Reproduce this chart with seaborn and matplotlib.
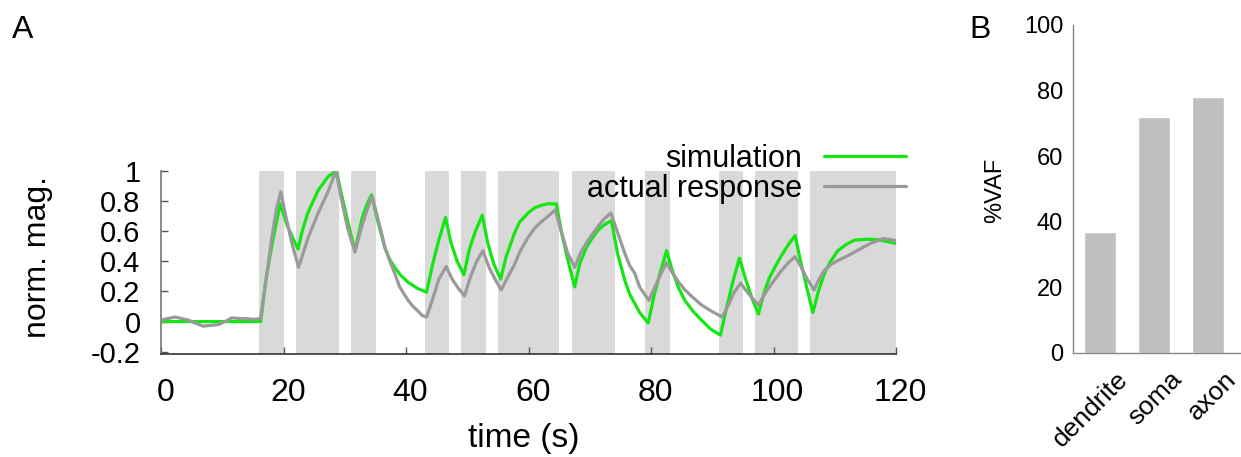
import matplotlib
matplotlib.use("Agg")
import matplotlib.pyplot as plt
import matplotlib.transforms as mtransforms
import seaborn as sns
import pandas as pd

# ---------------- data ----------------
stim_on = [16, 22, 31, 43, 49, 55, 67, 79, 91, 97, 106]
stim_off = [20, 29, 35, 47, 53, 65, 74, 83, 95, 104, 120]

sim_t = [0, 16.2, 17.0, 18.0, 19.4, 20.5, 21.5, 22.3, 23.0, 23.9, 25.6, 27.2, 28.6,
         29.3, 30.0, 30.8, 31.6, 32.2, 32.8, 33.5, 34.3, 35.3, 36.5, 37.3, 38.1, 39.0,
         40.3, 41.8, 43.3, 44.3, 45.3, 46.4, 47.3, 48.3, 49.4, 50.3, 51.3, 52.4, 53.3,
         54.3, 55.4, 56.3, 57.7, 58.5, 59.9, 61.0, 62.0, 63.0, 64.5, 65.3, 66.3, 67.5,
         68.3, 69.4, 70.3, 71.3, 72.3, 73.5, 74.5, 75.7, 76.5, 77.3, 78.1, 79.5, 80.5,
         81.5, 82.5, 83.5, 84.5, 85.5, 86.8, 88.2, 89.7, 91.3, 92.3, 93.3, 94.4, 95.5,
         96.5, 97.5, 98.5, 99.3, 100.2, 101.3, 102.4, 103.5, 104.5, 105.5, 106.4, 107.3,
         108.3, 109.3, 110.5, 111.8, 113.2, 115.0, 116.5, 118.0, 119.7, 120]
sim_y = [0.0, 0.0, 0.26, 0.50, 0.78, 0.64, 0.55, 0.48, 0.60, 0.72, 0.87, 0.96, 1.0,
         0.86, 0.74, 0.60, 0.47, 0.58, 0.69, 0.77, 0.84, 0.67, 0.49, 0.41, 0.36, 0.31,
         0.26, 0.22, 0.195, 0.38, 0.54, 0.69, 0.52, 0.40, 0.31, 0.48, 0.60, 0.705, 0.52,
         0.38, 0.28, 0.43, 0.59, 0.66, 0.72, 0.755, 0.77, 0.78, 0.78, 0.60, 0.42, 0.23,
         0.38, 0.49, 0.55, 0.605, 0.64, 0.67, 0.45, 0.27, 0.18, 0.12, 0.06, -0.01, 0.18,
         0.33, 0.47, 0.33, 0.22, 0.14, 0.07, 0.01, -0.05, -0.09, 0.09, 0.26, 0.42, 0.27,
         0.15, 0.05, 0.20, 0.29, 0.36, 0.44, 0.51, 0.57, 0.38, 0.21, 0.06, 0.20,
         0.32, 0.40, 0.47, 0.51, 0.54, 0.545, 0.545, 0.535, 0.52, 0.52]

act_t = [0, 1.0, 2.2, 3.3, 4.4, 5.5, 6.8, 8.0, 9.3, 10.4, 11.5, 12.6, 13.7, 15.0, 16.2,
         17.0, 18.0, 18.8, 19.5, 20.3, 21.3, 22.4, 23.2, 24.0, 25.6, 27.2, 28.5, 29.3,
         30.4, 31.6, 32.5, 33.5, 34.4, 35.5, 36.5, 37.3, 38.1, 38.9, 40.3, 41.1, 41.9,
         42.6, 43.3, 44.3, 45.3, 46.5, 47.5, 48.5, 49.5, 50.5, 51.5, 52.5, 53.5, 54.5,
         55.5, 56.5, 57.7, 58.5, 59.9, 61.0, 62.0, 63.2, 64.3, 65.3, 66.3, 67.5, 68.5,
         69.7, 71.3, 72.3, 73.4, 74.5, 75.7, 76.5, 77.3, 78.1, 79.6, 80.5, 81.5, 82.5,
         83.5, 84.5, 85.5, 86.8, 88.2, 89.8, 91.6, 92.5, 93.5, 94.6, 95.6, 96.6, 97.5,
         98.5, 99.3, 100.2, 101.3, 102.4, 103.5, 104.5, 105.5, 106.6, 107.4, 108.3,
         109.4, 110.5, 111.8, 113.2, 114.5, 115.9, 117.0, 117.8, 118.8, 119.7, 120]
act_y = [0.01, 0.02, 0.03, 0.02, 0.01, -0.01, -0.03, -0.025, -0.02, 0.0, 0.025, 0.02,
         0.02, 0.015, 0.02, 0.25, 0.55, 0.75, 0.86, 0.70, 0.52, 0.36, 0.46, 0.56, 0.72,
         0.86, 1.0, 0.83, 0.62, 0.46, 0.60, 0.73, 0.83, 0.66, 0.49, 0.40, 0.32, 0.23,
         0.14, 0.10, 0.07, 0.04, 0.03, 0.15, 0.28, 0.365, 0.28, 0.22, 0.17, 0.30, 0.40,
         0.47, 0.36, 0.28, 0.21, 0.29, 0.38, 0.46, 0.56, 0.62, 0.66, 0.70, 0.74, 0.60,
         0.46, 0.36, 0.46, 0.54, 0.63, 0.68, 0.72, 0.59, 0.45, 0.37, 0.32, 0.23, 0.14,
         0.22, 0.31, 0.39, 0.32, 0.26, 0.21, 0.16, 0.11, 0.07, 0.03, 0.10, 0.19, 0.255,
         0.20, 0.15, 0.11, 0.18, 0.23, 0.28, 0.34, 0.39, 0.43, 0.36, 0.28, 0.21, 0.28,
         0.34, 0.38, 0.405, 0.43, 0.46, 0.49, 0.52, 0.535, 0.55, 0.545, 0.54, 0.53]

regions = ["dendrite", "soma", "axon"]
vaf = [37, 72, 78]

x_ticks = [0, 20, 40, 60, 80, 100, 120]
y_ticks = [-0.2, 0, 0.2, 0.4, 0.6, 0.8, 1]
y_tick_labels = ["-0.2", "0", "0.2", "0.4", "0.6", "0.8", "1"]
vaf_ticks = [0, 20, 40, 60, 80, 100]

# ---------------- style ----------------
sns.set_theme(style="white")
plt.rcParams["font.family"] = ["Liberation Sans", "DejaVu Sans"]
plt.rcParams["text.color"] = "black"
plt.rcParams["axes.labelcolor"] = "black"
plt.rcParams["xtick.color"] = "black"
plt.rcParams["ytick.color"] = "black"

fig = plt.figure(figsize=(12.41, 4.57), dpi=100)
axA = fig.add_axes([0.1301, 0.2247, 0.5920, 0.4018])
axB = fig.add_axes([0.8646, 0.2276, 0.1346, 0.7177])

# ---------------- panel A ----------------
for a, b in zip(stim_on, stim_off):
    axA.axvspan(a, b, color="#d9d9d9", lw=0, zorder=0)

sim_df = pd.DataFrame({"t": sim_t, "y": sim_y})
act_df = pd.DataFrame({"t": act_t, "y": act_y})
sns.lineplot(data=sim_df, x="t", y="y", ax=axA, color="#14e614", lw=2.3,
             label="simulation", zorder=2)
sns.lineplot(data=act_df, x="t", y="y", ax=axA, color="#9a9a9a", lw=2.3,
             label="actual response", zorder=3)

axA.set_xlim(0, 120)
axA.set_ylim(-0.217, 1.0)
axA.set_xticks(x_ticks)
axA.set_yticks(y_ticks)
axA.set_yticklabels(y_tick_labels)
for s in ["top", "right"]:
    axA.spines[s].set_visible(False)
axA.spines["left"].set_color("#777777")
axA.spines["bottom"].set_color("#333333")
axA.spines["left"].set_linewidth(1.2)
axA.spines["bottom"].set_linewidth(1.2)
axA.tick_params(axis="y", direction="in", length=5, width=1, color="#555555",
                labelsize=21, pad=15, left=True)
axA.tick_params(axis="x", direction="in", length=5, width=1, color="#555555",
                labelsize=23, pad=17, bottom=True)
offset = mtransforms.ScaledTranslation(4 / 100, 0, fig.dpi_scale_trans)
for lab in axA.get_xticklabels():
    lab.set_transform(lab.get_transform() + offset)
axA.set_xlabel("time (s)", fontsize=24)
axA.set_ylabel("norm. mag.", fontsize=23)
axA.xaxis.set_label_coords(0.4934, -0.375)
axA.yaxis.set_label_coords(-0.1476, 0.527)

leg = axA.legend(loc="upper right", bbox_to_anchor=(1.0136, 1.146), frameon=False,
                 markerfirst=False, fontsize=22, handlelength=2.68, handletextpad=0.72,
                 labelspacing=0.0, borderpad=0, borderaxespad=0)
for line in leg.get_lines():
    line.set_linewidth(2.3)

# ---------------- panel B ----------------
sns.barplot(x=regions, y=vaf, ax=axB, color="#bfbfbf", width=0.6, saturation=1)
axB.set_ylim(0, 100)
axB.set_xlim(-0.5, 2.6)
axB.set_yticks(vaf_ticks)
for s in ["top", "right"]:
    axB.spines[s].set_visible(False)
for s in ["left", "bottom"]:
    axB.spines[s].set_color("#888888")
    axB.spines[s].set_linewidth(1.0)
axB.tick_params(axis="both", length=0, labelsize=17)
axB.tick_params(axis="y", pad=7)
axB.tick_params(axis="x", pad=10, labelsize=19)
offB = mtransforms.ScaledTranslation(16 / 100, 0, fig.dpi_scale_trans)
for lab in axB.get_xticklabels():
    lab.set_rotation(45)
    lab.set_ha("right")
    lab.set_va("top")
    lab.set_rotation_mode("anchor")
    lab.set_transform(lab.get_transform() + offB)
axB.set_ylabel("%VAF", fontsize=17)
axB.yaxis.set_label_coords(-0.40, 0.497)
axB.set_xlabel("")

fig.text(12 / 1241, 1 - 38 / 457, "A", fontsize=23, ha="left", va="baseline")
fig.text(969 / 1241, 1 - 38 / 457, "B", fontsize=23, ha="left", va="baseline")

fig.savefig("out.png", dpi=100)
